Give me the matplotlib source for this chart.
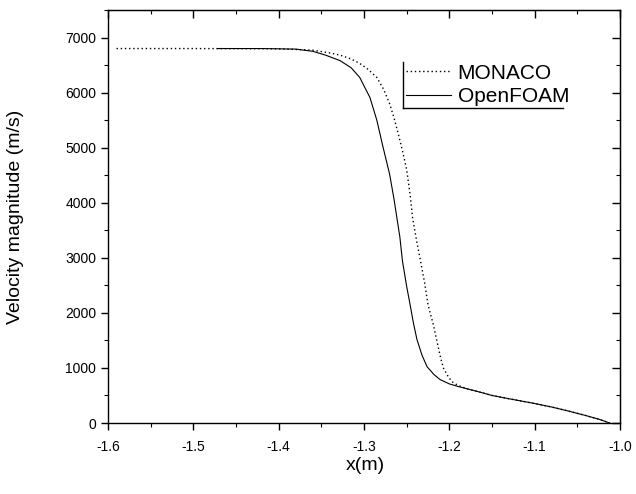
import matplotlib
matplotlib.use('Agg')
import matplotlib.pyplot as plt
from matplotlib.lines import Line2D
from matplotlib.ticker import MultipleLocator

plt.rcParams['font.family'] = ['Liberation Sans', 'DejaVu Sans']

# MONACO (dotted)
monaco_x = [-1.59, -1.50, -1.40, -1.36, -1.34, -1.328, -1.315, -1.305, -1.295,
            -1.285, -1.277, -1.270, -1.265, -1.260, -1.255, -1.250, -1.246,
            -1.243, -1.238, -1.234, -1.229, -1.225, -1.219, -1.214, -1.210,
            -1.207, -1.202, -1.197, -1.190, -1.179, -1.164, -1.150, -1.130,
            -1.102, -1.080, -1.060, -1.040, -1.025, -1.012]
monaco_v = [6800, 6800, 6795, 6770, 6720, 6680, 6610, 6530, 6420,
            6275, 6060, 5800, 5550, 5260, 4950, 4600, 4150,
            3720, 3280, 2960, 2550, 2150, 1800, 1450, 1170,
            1000, 860, 750, 685, 620, 560, 500, 440,
            360, 290, 215, 135, 70, 0]

# OpenFOAM (solid)
openfoam_x = [-1.472, -1.42, -1.38, -1.36, -1.345, -1.328, -1.315, -1.305, -1.293,
              -1.285, -1.278, -1.270, -1.265, -1.261, -1.258, -1.255, -1.250,
              -1.246, -1.242, -1.238, -1.232, -1.226, -1.218, -1.211, -1.200,
              -1.190, -1.179, -1.164, -1.150, -1.130, -1.102, -1.080, -1.060,
              -1.040, -1.025, -1.012]
openfoam_v = [6800, 6800, 6790, 6750, 6680, 6580, 6450, 6275, 5910,
              5500, 5030, 4520, 4080, 3680, 3380, 2950, 2480,
              2150, 1810, 1520, 1230, 1020, 880, 790, 710,
              665, 620, 560, 500, 440, 360, 290, 215,
              135, 70, 0]

fig = plt.figure(figsize=(6.36, 4.94), dpi=100)
ax = fig.add_axes([108/636, 1 - 423/494, 512/636, 413/494])

ax.plot(monaco_x, monaco_v, color='black', ls=(0, (1, 2)), lw=1.0, label='MONACO')
ax.plot(openfoam_x, openfoam_v, color='black', ls='-', lw=0.8, label='OpenFOAM')

ax.set_xlim(-1.6, -1.0)
ax.set_ylim(0, 7500)
ax.xaxis.set_minor_locator(MultipleLocator(0.05))
ax.yaxis.set_major_locator(MultipleLocator(1000))
ax.yaxis.set_minor_locator(MultipleLocator(500))
ax.set_xticks([-1.6, -1.5, -1.4, -1.3, -1.2, -1.1, -1.0])
ax.set_xticklabels(['-1.6', '-1.5', '-1.4', '-1.3', '-1.2', '-1.1', '-1.0'])
ax.tick_params(which='major', direction='out', length=5, width=1, labelsize=10)
ax.tick_params(which='minor', direction='out', length=3, width=0.8)
ax.tick_params(axis='x', which='major', pad=7)
for s in ax.spines.values():
    s.set_linewidth(1.0)

# mirrored ticks pointing in on top and right
top = ax.secondary_xaxis('top')
top.xaxis.set_major_locator(MultipleLocator(0.1))
top.xaxis.set_minor_locator(MultipleLocator(0.05))
top.tick_params(which='major', direction='in', length=6, width=1, labeltop=False)
top.tick_params(which='minor', direction='in', length=3, width=0.8)
right = ax.secondary_yaxis('right')
right.yaxis.set_major_locator(MultipleLocator(1000))
right.yaxis.set_minor_locator(MultipleLocator(500))
right.tick_params(which='major', direction='in', length=6, width=1, labelright=False)
right.tick_params(which='minor', direction='in', length=3, width=0.8)

ax.set_xlabel('x(m)', fontsize=14)
ax.xaxis.set_label_coords(0.502, -0.083)
ax.set_ylabel('Velocity magnitude (m/s)', fontsize=14)
ax.yaxis.set_label_coords(-0.165, 0.5)

leg = ax.legend(loc='upper left', bbox_to_anchor=(0.565, 0.89), frameon=False,
                fontsize=15, handlelength=2.2, handletextpad=0.3,
                labelspacing=0.22, borderaxespad=0)
# the L-shaped legend frame
ax.add_line(Line2D([0.576, 0.576], [0.874, 0.763], transform=ax.transAxes,
                   color='black', lw=1.0))
ax.add_line(Line2D([0.576, 0.889], [0.763, 0.763], transform=ax.transAxes,
                   color='black', lw=1.0))

fig.savefig('out.png', dpi=100)
